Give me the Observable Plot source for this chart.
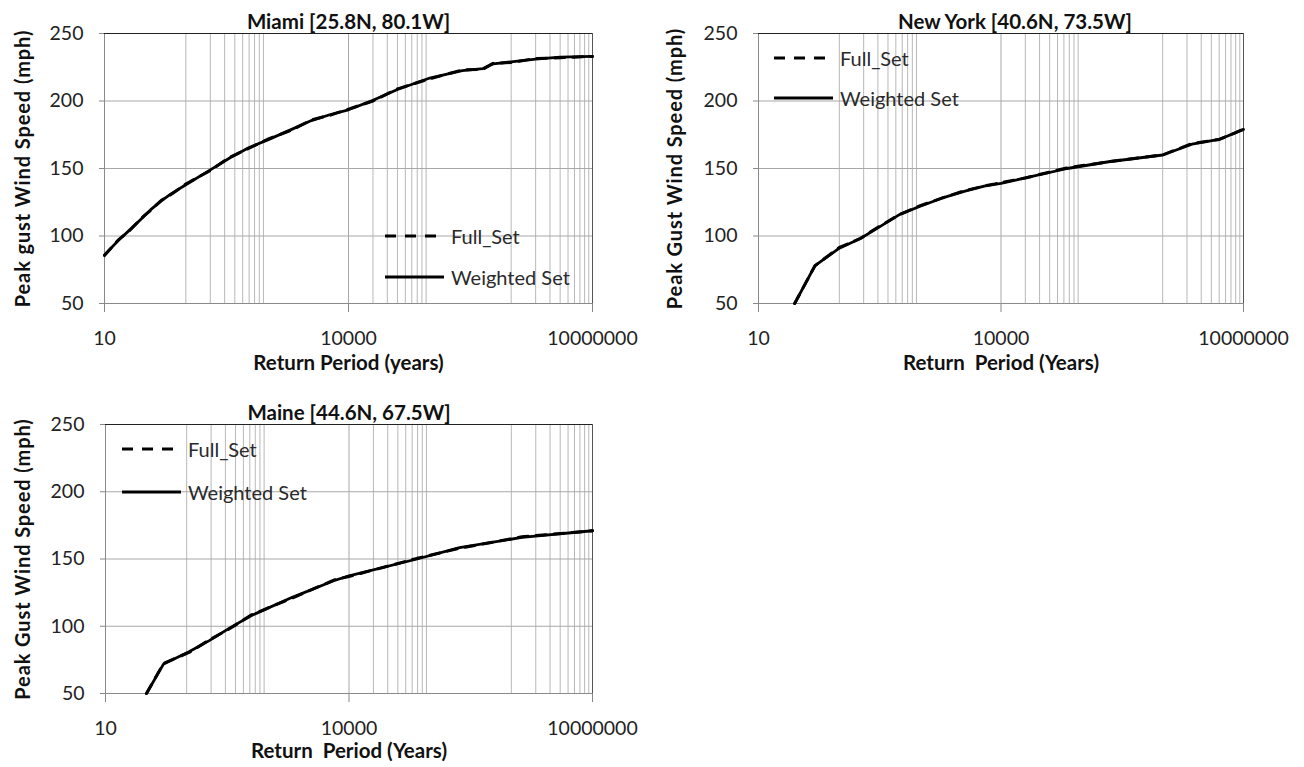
<!DOCTYPE html>
<html>
<head>
<meta charset="utf-8">
<script src="https://cdn.jsdelivr.net/npm/d3@7"></script>
<script src="https://cdn.jsdelivr.net/npm/@observablehq/plot@0.6"></script>
<style>
  html, body { margin: 0; padding: 0; background: #fff; }
  #root { position: relative; width: 1304px; height: 767px; background: #fff; font-family: Lato, "Open Sans", sans-serif; }
  .panel { position: absolute; }
  .legend { position: absolute; font-family: Lato, sans-serif; font-size: 20px; color: #2a2a2a; }
  .legend .row { position: absolute; left: 0; white-space: nowrap; display: flex; align-items: center; }
  .legend svg { display: block; }
</style>
</head>
<body>
<div id="root"></div>
<script>
// ---- Axis ticks ----
const majorTicks = [10, 10000, 10000000];
const minorTicks = [100, 200, 300, 400, 500, 600, 700, 800, 900,
                    20000, 30000, 40000, 50000, 60000, 70000, 80000, 90000,
                    1000000, 2000000, 3000000, 4000000, 5000000, 6000000, 7000000, 8000000, 9000000];
const yTicks = [50, 100, 150, 200, 250];

// ---- Miami ----
const miamiT = [10, 15, 20, 30, 37, 50, 65, 100, 200, 350, 600, 1000, 2000, 3500, 6000, 10000, 20000, 40000, 100000, 250000, 450000, 600000, 1000000, 2000000, 4000000, 10000000];
const miamiWeighted = [86, 97, 104, 114, 119.5, 126, 131, 138, 149, 158, 165.5, 171, 179, 185.5, 190, 193.5, 200.5, 208.5, 217, 222.5, 224, 227.5, 229, 231, 232.5, 233];
const miamiFull = [85.5, 97.5, 103.5, 114.5, 119, 126.5, 130.5, 138.5, 148.5, 158.5, 165, 171.5, 178.5, 186, 189.5, 194, 200, 209, 216.5, 223, 223.5, 228, 228.5, 231.5, 232, 233];

// ---- New York ----
const nyT = [28, 50, 100, 180, 300, 560, 1000, 1850, 3500, 6200, 10000, 20000, 66000, 215000, 1000000, 2300000, 5000000, 10000000];
const nyWeighted = [50, 78, 91, 98, 106, 116, 122, 128, 133, 137, 139, 143, 150, 155, 160, 168, 171.5, 179];
const nyFull = [50, 78, 91.5, 98, 106.5, 116, 122.5, 128, 133.5, 137, 139.5, 143, 150.5, 155, 160, 168.5, 171.5, 179];

// ---- Maine ----
const maineT = [32, 52, 107, 192, 345, 630, 2000, 6600, 10000, 69000, 230000, 1350000, 10000000];
const maineWeighted = [50, 72, 81, 89.5, 99, 108, 121.5, 134, 137.5, 150, 158.5, 166, 171];
const maineFull = [50, 72.5, 80.5, 90, 98.5, 108.5, 121, 134.5, 137, 150.5, 158, 166.5, 171];

const seriesNames = ["Full_Set", "Weighted Set"];

function toRows(T, vals) { return T.map((t, i) => ({t, v: vals[i]})); }

function panel(cfg) {
  const fmt = d => String(d);
  const svg = Plot.plot({
    width: cfg.width, height: cfg.height,
    marginLeft: cfg.ml, marginRight: cfg.mr, marginTop: cfg.mt, marginBottom: cfg.mb,
    x: {type: "log", domain: [10, 10000000]},
    y: {domain: [50, 250]},
    style: {fontFamily: "Lato, sans-serif", fontSize: "19.5px", color: "#222", background: "transparent", overflow: "visible"},
    marks: [
      Plot.ruleX(minorTicks, {stroke: "#b8b8b8", strokeWidth: 1, strokeOpacity: 1}),
      Plot.ruleX(majorTicks, {stroke: "#a8a8a8", strokeWidth: 1, strokeOpacity: 1}),
      Plot.ruleY(yTicks, {stroke: "#a8a8a8", strokeWidth: 1, strokeOpacity: 1}),
      Plot.axisY(yTicks, {anchor: "left", tickSize: 5, tickPadding: 16, label: null, tickFormat: fmt, stroke: "#888"}),
      Plot.axisX(majorTicks, {anchor: "bottom", tickSize: 9, tickPadding: 19, label: null, tickFormat: fmt, stroke: "#888"}),
      Plot.ruleX([10], {stroke: "#8a8a8a"}),
      Plot.ruleY([50], {stroke: "#8a8a8a"}),
      Plot.ruleX([10000000], {stroke: "#555"}),
      Plot.ruleY([250], {stroke: "#222"}),
      Plot.line(toRows(cfg.T, cfg.full), {x: "t", y: "v", stroke: "#000", strokeWidth: 3, strokeDasharray: "10,8"}),
      Plot.line(toRows(cfg.T, cfg.weighted), {x: "t", y: "v", stroke: "#000", strokeWidth: 2.8}),
      Plot.text([cfg.title], {text: d => d, frameAnchor: "top", dy: -19, dx: cfg.titleDx || 0, fontWeight: "bold", fontSize: 20.5, fill: "#111"}),
      Plot.text([cfg.ytitle], {text: d => d, frameAnchor: "left", textAnchor: "middle", rotate: -90, dx: cfg.ytDx, fontWeight: "bold", fontSize: 20, fill: "#111"}),
      Plot.text([cfg.xtitle], {text: d => d, frameAnchor: "bottom", dy: cfg.xtDy, fontWeight: "bold", fontSize: 20.5, fill: "#111"})
    ]
  });
  d3.select(svg).selectAll("text")
    .filter(function() { return this.textContent === cfg.ytitle; })
    .style("letter-spacing", "0.9px");
  return svg;
}

function legend(root, left, top, gap) {
  const div = document.createElement("div");
  div.className = "legend";
  div.style.left = left + "px";
  div.style.top = top + "px";
  seriesNames.forEach((name, i) => {
    const row = document.createElement("div");
    row.className = "row";
    row.style.top = (i * gap - 13) + "px";
    const dash = i === 0 ? 'stroke-dasharray="11,9"' : "";
    row.innerHTML = `<svg width="60" height="26"><line x1="0" x2="59" y1="13" y2="13" stroke="#000" stroke-width="3.2" ${dash}/></svg><span style="margin-left:6px">${name}</span>`;
    div.appendChild(row);
  });
  root.appendChild(div);
}

const root = document.getElementById("root");
const specs = [
  {left: 0, top: 0, width: 650, height: 380, ml: 104, mr: 58, mt: 33, mb: 77,
   T: miamiT, full: miamiFull, weighted: miamiWeighted,
   title: "Miami [25.8N, 80.1W]", ytitle: "Peak gust Wind Speed (mph)", xtitle: "Return Period (years)",
   ytDx: -81, xtDy: 66, legend: [385, 236, 41]},
  {left: 650, top: 0, width: 654, height: 380, ml: 108, mr: 61, mt: 33, mb: 77,
   T: nyT, full: nyFull, weighted: nyWeighted, titleDx: 14,
   title: "New York [40.6N, 73.5W]", ytitle: "Peak Gust Wind Speed (mph)", xtitle: "Return  Period (Years)",
   ytDx: -83, xtDy: 66, legend: [774, 58, 39.5]},
  {left: 0, top: 390, width: 650, height: 377, ml: 105, mr: 58, mt: 34, mb: 74,
   T: maineT, full: maineFull, weighted: maineWeighted,
   title: "Maine [44.6N, 67.5W]", ytitle: "Peak Gust Wind Speed (mph)", xtitle: "Return  Period (Years)",
   ytDx: -82, xtDy: 64, legend: [122, 449, 42.5]}
];

specs.forEach(s => {
  const el = panel(s);
  el.classList.add("panel");
  el.style.position = "absolute";
  el.style.left = s.left + "px";
  el.style.top = s.top + "px";
  root.appendChild(el);
  legend(root, s.legend[0], s.legend[1], s.legend[2]);
});
</script>
</body>
</html>
